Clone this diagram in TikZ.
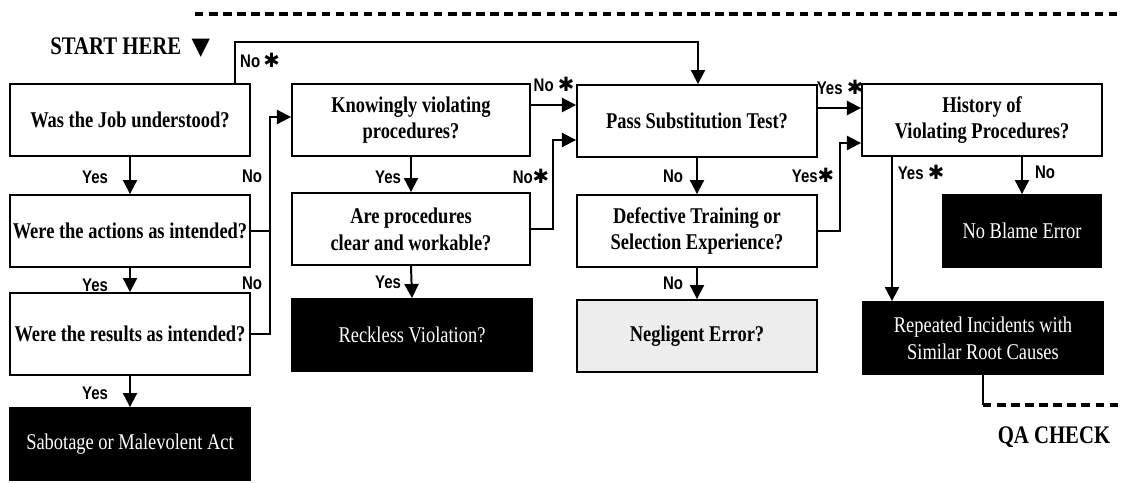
\documentclass[tikz,border=0pt]{standalone}
\usepackage{fontspec}
\setmainfont{Liberation Serif}
\newfontfamily\boxfont[FakeStretch=0.82]{Liberation Serif}
\newfontfamily\tagfont[FakeStretch=0.82]{Liberation Sans}
\newfontfamily\symfont{DejaVu Sans}
\newcommand{\starmark}{{\symfont\fontsize{14}{15}\selectfont ✱}}
\usetikzlibrary{arrows.meta}

\begin{document}
\begin{tikzpicture}
	[
	x = {(0.025cm, 0cm)},
	y = {(0cm, -0.025cm)},
	question/.style = {draw = black, line width = 1.3pt, fill = white, minimum width = 6cm, minimum height = 1.8cm, inner sep = 0pt, align = center, font = \boxfont\bfseries\fontsize{16}{19}\selectfont},
	verdict/.style = {question, fill = black, text = white, font = \boxfont\fontsize{16}{19}\selectfont},
	tag/.style = {font = \tagfont\bfseries\fontsize{13}{15}\selectfont, inner sep = 0pt},
	heading/.style = {font = \boxfont\bfseries\fontsize{18}{21}\selectfont, inner sep = 0pt},
	flow/.style = {line width = 1.4pt, -{Triangle[width = 10pt, length = 10pt]}},
	link/.style = {line width = 1.4pt},
	qaline/.style = {line width = 2.6pt, dash pattern = on 6pt off 4pt}]
	
	\useasboundingbox (0,0) rectangle (1121,482);
	
	%% Boxes
	\node[question] (job) at (130,120) {Was the Job understood?};
	\node[question] (actions) at (130,231) {Were the actions as intended?};
	\node[question, minimum height = 2.05cm] (results) at (130,334) {Were the results as intended?};
	\node[verdict] (sabotage) at (130,444) {Sabotage or Malevolent Act};
	
	\node[question, minimum width = 5.95cm] (knowing) at (411,120) {Knowingly violating\\procedures?};
	\node[question, minimum width = 5.95cm] (clear) at (411,229) {Are procedures\\clear and workable?};
	\node[verdict] (reckless) at (412,335) {Reckless Violation?};
	
	\node[question] (pass) at (697,121) {Pass Substitution Test?};
	\node[question] (training) at (697,231) {Defective Training or\\Selection Experience?};
	\node[question, fill = black!7] (negligent) at (697,336) {Negligent Error?};
	
	\node[question] (history) at (982,120) {History of\\Violating Procedures?};
	\node[verdict, minimum width = 3.975cm] (noblame) at (1022,231) {No Blame Error};
	\node[verdict] (repeated) at (983,338) {Repeated Incidents with\\Similar Root Causes};
	
	\node[heading, anchor = west] (start) at (50,48) {START HERE\ \ {\symfont\fontsize{17}{18}\selectfont ▼}};
	\node[heading] (qa) at (1054,437) {QA CHECK};
	
	%% Labels
	\node[tag] (yes1) at (95,177) {Yes};
	\node[tag] (yes2) at (95,285) {Yes};
	\node[tag] (yes3) at (95,393) {Yes};
	\node[tag] (no1) at (252,176) {No};
	\node[tag] (no2) at (252,283) {No};
	\node[tag] (nostar1) at (260,60) {No\,\starmark};
	\node[tag] (yes4) at (388,177) {Yes};
	\node[tag] (yes5) at (388,282) {Yes};
	\node[tag] (nostar2) at (554,84) {No \starmark};
	\node[tag] (nostar3) at (531,176) {No\starmark};
	\node[tag] (no3) at (673,176) {No};
	\node[tag] (no4) at (673,283) {No};
	\node[tag] (yesstar1) at (840,87) {Yes \starmark};
	\node[tag] (yesstar2) at (813,175) {Yes\starmark};
	\node[tag] (yesstar3) at (921,172) {Yes \starmark};
	\node[tag] (no5) at (1045,172) {No};
	
	\coordinate (nobus) at (270,117);
	\coordinate (loopleft) at (235,42);
	\coordinate (loopright) at (698,42);
	\coordinate (noskip) at (553,105);
	\coordinate (nobend) at (553,140);
	\coordinate (yesskip) at (840,108);
	\coordinate (yesbend) at (840,143);
	\coordinate (yesdrop) at (892,160);
	\coordinate (qacorner) at (983,405);
	\coordinate (qaend) at (1121,405);
	\coordinate (topleft) at (195,14);
	\coordinate (topright) at (1121,14);
	
	%% Connectors
	\draw[flow] (job.south) -- (actions.north);
	\draw[flow] (actions.south) -- (results.north);
	\draw[flow] (results.south) -- (sabotage.north);
	\draw[link] (actions.east) -- (actions.east -| nobus);
	\draw[flow] (results.east) -| (nobus) -- (nobus -| knowing.west);
	\draw[flow] (job.north -| loopleft) -- (loopleft) -- (loopright) -- (loopright |- pass.north);
	
	\draw[flow] (knowing.south) -- (clear.north);
	\draw[flow] (clear.south) -- (reckless.north);
	\draw[flow] (knowing.east |- noskip) -- (pass.west |- noskip);
	\draw[flow] (clear.east) -| (nobend) -- (nobend -| pass.west);
	
	\draw[flow] (pass.south) -- (training.north);
	\draw[flow] (training.south) -- (negligent.north);
	\draw[flow] (pass.east |- yesskip) -- (history.west |- yesskip);
	\draw[flow] (training.east) -| (yesbend) -- (yesbend -| history.west);
	
	\draw[flow] (history.south -| yesdrop) -- (repeated.north -| yesdrop);
	\draw[flow] (history.south -| noblame.north) -- (noblame.north);
	\draw[link] (repeated.south) -- (qacorner);
	\draw[qaline] (qacorner) -- (qaend);
	\draw[qaline] (topleft) -- (topright);
\end{tikzpicture}
\end{document}
